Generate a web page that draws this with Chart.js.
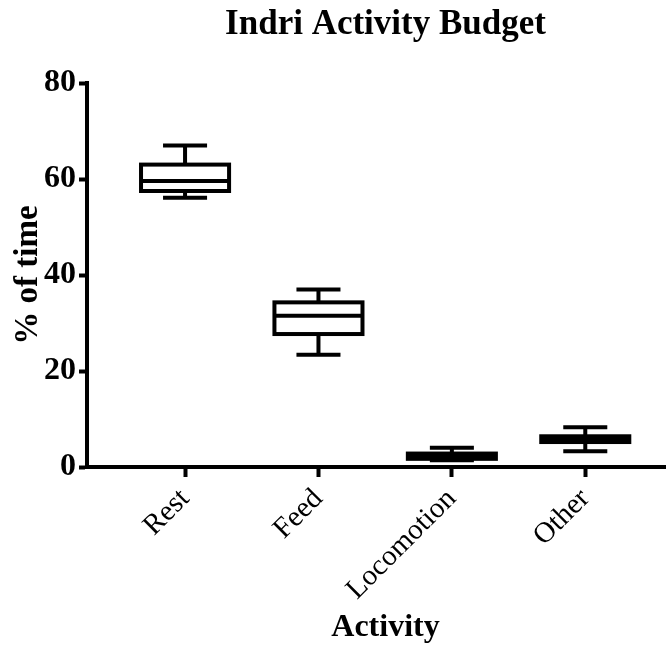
<!DOCTYPE html>
<html>
<head>
<meta charset="utf-8">
<script src="https://cdn.jsdelivr.net/npm/chart.js@4.4.1/dist/chart.umd.min.js"></script>
<style>
  html, body { margin: 0; padding: 0; background: #ffffff; overflow: hidden; }
  #wrap { position: relative; width: 684px; height: 664px; }
</style>
</head>
<body>
<div id="wrap"><canvas id="chart"></canvas></div>
<script>
// Activity categories and five-number summaries (% of time)
const categories = ['Rest', 'Feed', 'Locomotion', 'Other'];
const minimum  = [56.1, 23.4, 1.4, 3.3];
const q1       = [57.5, 27.7, 1.7, 5.2];
const median   = [59.6, 31.5, 2.3, 5.8];
const q3       = [63.0, 34.3, 2.8, 6.4];
const maximum  = [67.0, 37.0, 4.0, 8.3];
const yTicks   = [0, 20, 40, 60, 80];

const serif = "'Liberation Serif', 'Times New Roman', serif";
const LINE = 4;

// Box outlines, medians, whiskers and caps drawn on top of the floating bars
const boxPlot = {
  id: 'boxPlot',
  afterDatasetsDraw(chart) {
    const ctx = chart.ctx;
    const ys = chart.scales.y;
    const meta = chart.getDatasetMeta(0);
    ctx.save();
    ctx.strokeStyle = '#000';
    ctx.lineWidth = LINE;
    ctx.lineCap = 'butt';
    meta.data.forEach((bar, i) => {
      const x = bar.x;
      const half = bar.width / 2;
      const top = ys.getPixelForValue(q3[i]);
      const bot = ys.getPixelForValue(q1[i]);
      const med = ys.getPixelForValue(median[i]);
      const hi = ys.getPixelForValue(maximum[i]);
      const lo = ys.getPixelForValue(minimum[i]);
      const cap = half / 2;
      ctx.beginPath();
      // whiskers
      ctx.moveTo(x, top); ctx.lineTo(x, hi);
      ctx.moveTo(x, bot); ctx.lineTo(x, lo);
      // caps
      ctx.moveTo(x - cap, hi); ctx.lineTo(x + cap, hi);
      ctx.moveTo(x - cap, lo); ctx.lineTo(x + cap, lo);
      // median
      ctx.moveTo(x - half, med); ctx.lineTo(x + half, med);
      ctx.stroke();
      ctx.strokeRect(x - half, top, half * 2, bot - top);
    });
    ctx.restore();
  }
};

new Chart(document.getElementById('chart'), {
  type: 'bar',
  data: {
    datasets: [{
      data: categories.map((c, i) => ({ x: i, y: [q1[i], q3[i]] })),
      backgroundColor: '#ffffff',
      borderWidth: 0,
      barPercentage: 0.66,
      categoryPercentage: 1.0
    }]
  },
  options: {
    responsive: true,
    maintainAspectRatio: false,
    animation: false,
    layout: { padding: 0 },
    plugins: {
      legend: { display: false },
      tooltip: { enabled: false },
      title: {
        display: true,
        text: 'Indri Activity Budget',
        color: '#000',
        fullSize: false,
        font: { family: serif, size: 35, weight: 'bold' },
        padding: { top: 4, bottom: 37 }
      }
    },
    scales: {
      x: {
        type: 'linear',
        offset: false,
        min: -0.735,
        max: 3.74,
        afterFit(scale) { scale.height = 197; },
        afterBuildTicks(scale) { scale.ticks = categories.map((c, i) => ({ value: i })); },
        border: { display: true, color: '#000', width: LINE },
        grid: {
          display: true,
          offset: false,
          drawOnChartArea: false,
          drawTicks: true,
          tickLength: 10,
          tickWidth: LINE,
          tickColor: '#000',
          color: '#000'
        },
        ticks: {
          autoSkip: false,
          minRotation: 45,
          maxRotation: 45,
          padding: 5,
          color: '#000',
          font: { family: serif, size: 29, weight: 'normal' },
          callback: (v) => categories[v] ?? ''
        },
        title: {
          display: true,
          text: 'Activity',
          color: '#000',
          font: { family: serif, size: 32, weight: 'bold' },
          padding: { top: 0, bottom: 17 }
        }
      },
      y: {
        min: 0,
        max: 80,
        afterFit(scale) { scale.width = 87; },
        afterBuildTicks(scale) { scale.ticks = yTicks.map(v => ({ value: v })); },
        border: { display: true, color: '#000', width: LINE },
        grid: {
          display: true,
          drawOnChartArea: false,
          drawTicks: true,
          tickLength: 8,
          tickWidth: LINE,
          tickColor: '#000',
          color: '#000'
        },
        ticks: {
          padding: 3,
          color: '#000',
          font: { family: serif, size: 32, weight: 'bold' }
        },
        title: {
          display: true,
          text: '% of time',
          color: '#000',
          font: { family: serif, size: 33, weight: 'bold' },
          padding: { top: 9, bottom: 0 }
        }
      }
    }
  },
  plugins: [boxPlot]
});
</script>
</body>
</html>
